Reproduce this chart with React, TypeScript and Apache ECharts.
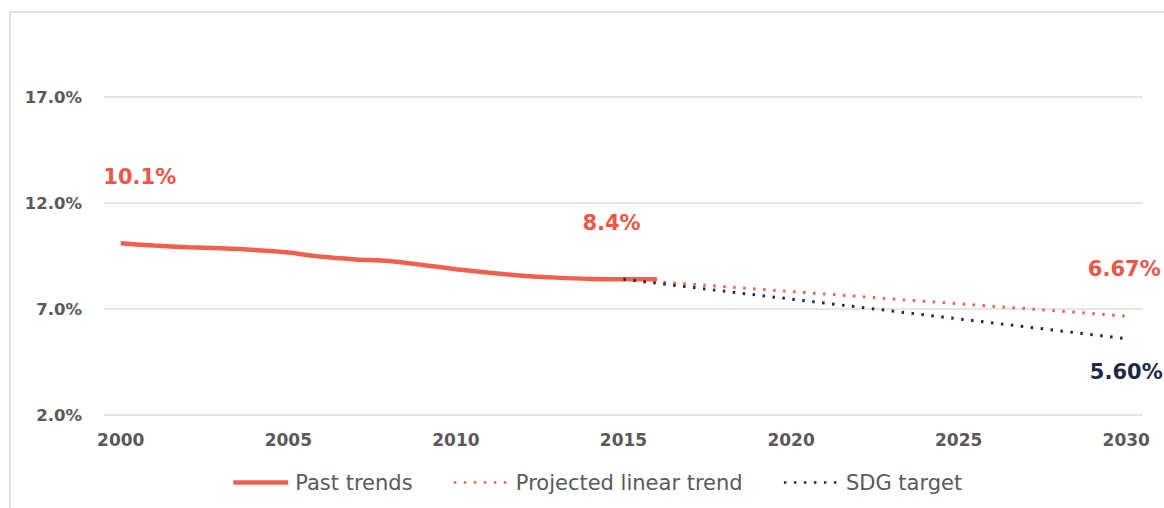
import React, { useEffect, useRef } from "react";
import * as echarts from "echarts";

const years = [
  "2000", "2001", "2002", "2003", "2004", "2005", "2006", "2007", "2008", "2009", "2010",
  "2011", "2012", "2013", "2014", "2015", "2016", "2017", "2018", "2019", "2020",
  "2021", "2022", "2023", "2024", "2025", "2026", "2027", "2028", "2029", "2030",
];

const pastYears = [
  "2000", "2001", "2002", "2003", "2004", "2005", "2006", "2007", "2008",
  "2009", "2010", "2011", "2012", "2013", "2014", "2015", "2016",
];
const pastValues = [
  10.1, 9.99, 9.91, 9.86, 9.78, 9.66, 9.46, 9.34, 9.26,
  9.08, 8.88, 8.71, 8.57, 8.48, 8.42, 8.4, 8.4,
];

const projectedYears = ["2015", "2030"];
const projectedValues = [8.4, 6.67];

const sdgYears = ["2015", "2030"];
const sdgValues = [8.4, 5.6];

const seriesNames = ["Past trends", "Projected linear trend", "SDG target"];

const yTicks = [2, 7, 12, 17];

const RED = "#f0604e";
const RED_TEXT = "#ee5646";
const NAVY = "#1e2b48";
const GRAY = "#595959";

export default function App() {
  const ref = useRef<HTMLDivElement>(null);

  useEffect(() => {
    document.body.style.margin = "0";
    if (!ref.current) return;
    const chart = echarts.init(ref.current, null, { renderer: "svg" });

    const labelBase = {
      fontFamily: "DejaVu Sans",
      fontWeight: "bold",
      fontSize: 21,
    };

    const pastData = pastYears.map((y, i) => [y, pastValues[i]]);
    const projData = projectedYears.map((y, i) => [y, projectedValues[i]]);
    const sdgData = sdgYears.map((y, i) => [y, sdgValues[i]]);

    const mp = (coord: any[], text: string, color: string, offset: number[]) => ({
      coord,
      symbol: "circle",
      symbolSize: 1,
      itemStyle: { color: "rgba(0,0,0,0)" },
      label: {
        show: true,
        position: "inside",
        formatter: text,
        color,
        offset,
        ...labelBase,
      },
    });

    chart.setOption({
      animation: false,
      graphic: [
        {
          type: "rect",
          shape: { x: 10, y: 12, width: 1300, height: 700 },
          style: { fill: "none", stroke: "#d9d9d9", lineWidth: 1.5 },
          silent: true,
        },
      ],
      grid: { left: 104, right: 21, top: 97, bottom: 93, containLabel: false },
      legend: {
        left: 226,
        top: 467,
        itemWidth: 55,
        itemHeight: 14,
        itemGap: 40,
        itemStyle: { opacity: 0 },
        textStyle: { fontFamily: "DejaVu Sans", fontSize: 21, color: GRAY, padding: [0, 0, 0, 2] },
        data: [
          { name: seriesNames[0], lineStyle: { width: 4.5 } },
          { name: seriesNames[1], lineStyle: { width: 2.5 } },
          { name: seriesNames[2], lineStyle: { width: 2.5 } },
        ],
      },
      xAxis: {
        type: "category",
        data: years,
        boundaryGap: true,
        axisLine: { show: false },
        axisTick: { show: false },
        axisLabel: {
          interval: 4,
          margin: 16,
          color: GRAY,
          fontFamily: "DejaVu Sans",
          fontWeight: "bold",
          fontSize: 17,
        },
        splitLine: { show: false },
      },
      yAxis: {
        type: "value",
        min: yTicks[0],
        max: yTicks[yTicks.length - 1],
        interval: 5,
        axisLine: { show: false },
        axisTick: { show: false },
        axisLabel: {
          margin: 22,
          color: GRAY,
          fontFamily: "DejaVu Sans",
          fontWeight: "bold",
          fontSize: 16.5,
          formatter: (v: number) => v.toFixed(1) + "%",
        },
        splitLine: { lineStyle: { color: "#dcdcdc", width: 1.5 } },
      },
      series: [
        {
          name: seriesNames[1],
          type: "line",
          data: projData,
          symbol: "none",
          z: 2,
          lineStyle: { color: RED, width: 3, type: [2.5, 7.5] },
          itemStyle: { color: RED },
          markPoint: {
            data: [mp(projData[1], "6.67%", RED_TEXT, [-2, -47])],
          },
        },
        {
          name: seriesNames[0],
          type: "line",
          data: pastData,
          symbol: "none",
          smooth: 0.3,
          z: 3,
          lineStyle: { color: RED, width: 4.5 },
          itemStyle: { color: RED },
          markPoint: {
            data: [
              mp(pastData[0], "10.1%", RED_TEXT, [19, -66]),
              mp(pastData[15], "8.4%", RED_TEXT, [-12, -56]),
            ],
          },
        },
        {
          name: seriesNames[2],
          type: "line",
          data: sdgData,
          symbol: "none",
          z: 4,
          lineStyle: { color: NAVY, width: 3, type: [2.5, 7.5] },
          itemStyle: { color: NAVY },
          markPoint: {
            data: [mp(sdgData[1], "5.60%", NAVY, [0, 33])],
          },
        },
      ],
    });

    return () => chart.dispose();
  }, []);

  return <div ref={ref} style={{ width: 1164, height: 508 }} />;
}
